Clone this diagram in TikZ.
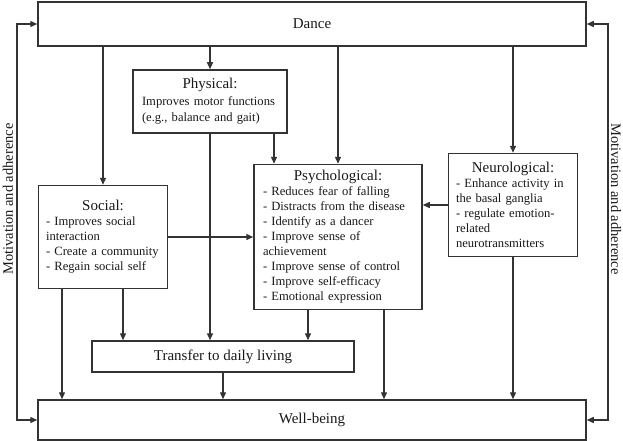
\documentclass[tikz,border=0pt]{standalone}
\usepackage{fontspec}
\setmainfont{Liberation Serif}
\usetikzlibrary{arrows.meta}
\newcommand{\boxtitle}[1]{\makebox[\hsize][c]{\fontsize{15}{15}\selectfont #1}}
\hyphenpenalty=10000

\begin{document}
\begin{tikzpicture}[x=1pt,y=-1pt]
        \useasboundingbox (0,0) rectangle (623,441);
        \tikzstyle{every node} = [rectangle,inner sep=0pt,text=black!90]
        \tikzstyle{box} = [draw=black!80,line width=1.5pt,inner xsep=9pt,fill=white]
        \tikzstyle{big} = [box,font=\fontsize{15}{18}\selectfont]
        \tikzstyle{list} = [box,align=left,font=\fontsize{12.6}{15}\selectfont]
        \tikzstyle{side} = [font=\fontsize{14.5}{16}\selectfont]
        \tikzstyle{arr} = [-{Triangle[length=7pt,width=6pt]},draw=black!80,line width=1.4pt]
        \tikzstyle{both} = [{Triangle[length=7pt,width=6pt]}-{Triangle[length=7pt,width=6pt]},draw=black!80,line width=1.4pt]
        \node[big,minimum width=548pt,minimum height=44pt] (dance) at (312,24) {Dance};
        \node[list,text width=136pt,minimum height=63pt] (phys) at (210,101.5)
          {\boxtitle{Physical:}\\[1.5pt]Improves motor functions\\[1.5pt](e.g., balance and gait)};
        \node[list,text width=114pt,inner xsep=7.5pt,minimum height=103pt] (soc) at (103,237)
          {\boxtitle{Social:}\\- Improves social\\interaction\\- Create a community\\- Regain social self};
        \node[list,text width=150pt,minimum height=145pt] (psy) at (338,237)
          {\boxtitle{Psychological:}\\- Reduces fear of falling\\- Distracts from the disease\\- Identify as a dancer\\- Improve sense of\\achievement\\- Improve sense of control\\- Improve self-efficacy\\- Emotional expression};
        \node[list,text width=114pt,inner xsep=7.5pt,minimum height=103pt] (neuro) at (513,205)
          {\boxtitle{Neurological:}\\- Enhance activity in\\the basal ganglia\\- regulate emotion-\\related\\neurotransmitters};
        \node[big,minimum width=262pt,minimum height=31pt] (trans) at (223,356.5) {Transfer to daily living};
        \node[big,minimum width=548pt,minimum height=40pt] (well) at (312,420) {Well-being};
        \node[side,rotate=90] (motl) at (8,199) {Motivation and adherence};
        \node[side,rotate=-90] (motr) at (616,199) {Motivation and adherence};
        \coordinate (lt) at (17,24);
        \coordinate (lb) at (17,420);
        \coordinate (rt) at (608,24);
        \coordinate (rb) at (608,420);
        % from dance
        \draw[arr] (dance.south -| soc.north) -- (soc.north);
        \draw[arr] (dance.south -| phys.north) -- (phys.north);
        \draw[arr] (dance.south -| psy.north) -- (psy.north);
        \draw[arr] (dance.south -| neuro.north) -- (neuro.north);
        % between the boxes
        \draw[arr] ([xshift=64pt]phys.south) -- ([xshift=64pt]phys.south |- psy.north);
        \draw[arr] (soc.east) -- (soc.east -| psy.west);
        \draw[arr] (neuro.west) -- (neuro.west -| psy.east);
        % to transfer
        \draw[arr] ([xshift=20pt]soc.south) -- ([xshift=20pt]soc.south |- trans.north);
        \draw[arr] (phys.south) -- (phys.south |- trans.north);
        \draw[arr] ([xshift=-30pt]psy.south) -- ([xshift=-30pt]psy.south |- trans.north);
        % to well-being
        \draw[arr] ([xshift=-41pt]soc.south) -- ([xshift=-41pt]soc.south |- well.north);
        \draw[arr] (trans.south) -- (trans.south |- well.north);
        \draw[arr] ([xshift=46pt]psy.south) -- ([xshift=46pt]psy.south |- well.north);
        \draw[arr] (neuro.south) -- (neuro.south |- well.north);
        % feedback
        \draw[both] (dance.west) -- (lt) -- (lb) -- (well.west);
        \draw[both] (dance.east) -- (rt) -- (rb) -- (well.east);
      \end{tikzpicture}
\end{document}
